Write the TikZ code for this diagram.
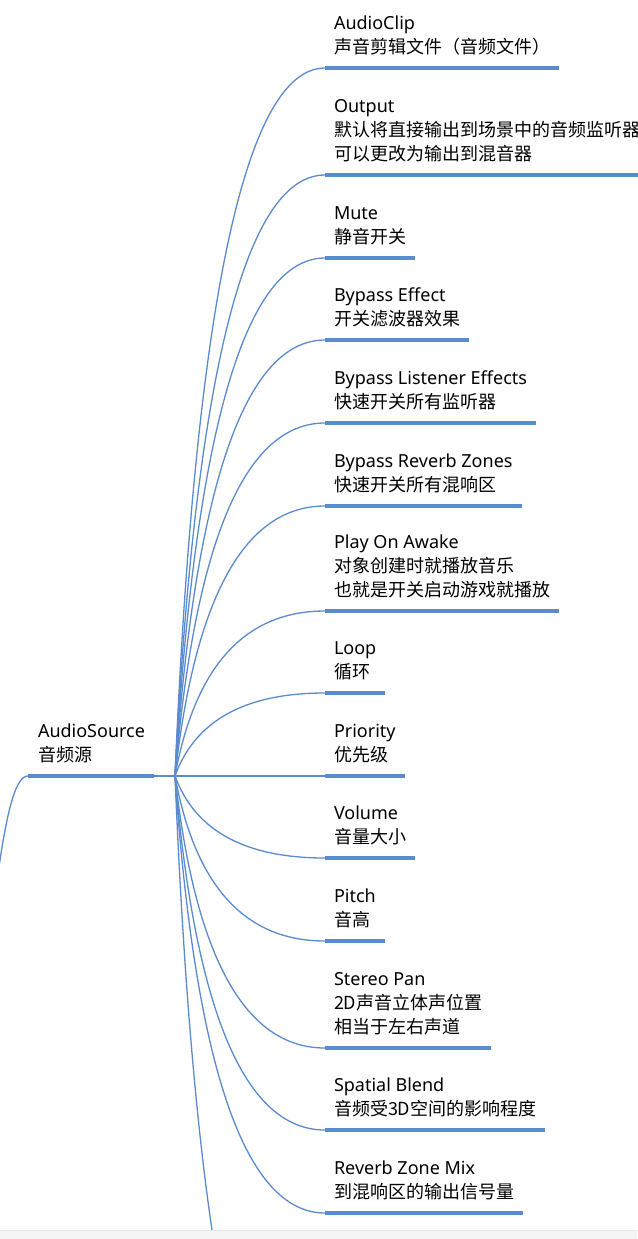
\documentclass[tikz,border=0pt]{standalone}
\usepackage{fontspec}
\setmainfont{Noto Sans}
\newfontfamily\cjk{Noto Sans CJK SC}
\usetikzlibrary{calc}
\definecolor{mapblue}{HTML}{5B8BCF}
\definecolor{barbg}{HTML}{F5F5F5}
\definecolor{barline}{HTML}{E6E6E6}
\newcommand\mystrut{\rule[-6pt]{0pt}{24pt}}
\newcommand\LatLine[1]{\mystrut #1}
\newcommand\CjkLine[1]{\mystrut{\cjk #1}}
\tikzset{
  txt/.style={anchor=north west, inner sep=0pt, outer sep=0pt, align=left,
              font=\fontsize{18}{24}\selectfont, text=black},
  uline/.style={draw=mapblue, line width=4pt},
  conn/.style={draw=mapblue, line width=1.3pt},
}
\newcommand\branch[4]{%
  \pgfmathsetmacro\ty{#2-33-24*#3}%
  \node[txt] (t#1) at (334,\ty) {#4};
  \coordinate (c#1) at (325,#2);
  \coordinate (e#1) at ($(t#1.east |- c#1)+(9,0)$);
  \draw[conn] (hub) .. controls ($(hub)!2/3!(hub|-c#1)+(20,0)$) and ($(c#1)+(-80,0)$) .. (c#1);
  \draw[uline] (c#1) -- (e#1);
}
\begin{document}
\begin{tikzpicture}[x=1pt,y=-1pt]
\useasboundingbox (0,0) rectangle (637,1239);
\fill[white] (0,0) rectangle (637,1239);

% root
\coordinate (hub) at (175,776);
\coordinate (rs) at (28,776);
\node[txt] (troot) at (38,719) {\LatLine{AudioSource}\\\CjkLine{音频源}};
\coordinate (re) at ($(troot.east |- rs)+(9,0)$);
\coordinate (pin) at (-8,920);
\draw[conn] (pin) .. controls (4,820) and (14,776) .. (rs);
\draw[uline] (rs) -- (re);
\draw[conn] (re) -- (hub);

% children
\branch{a}{68}{1}{\LatLine{AudioClip}\\\CjkLine{声音剪辑文件（音频文件）}}
\branch{b}{175}{2}{\LatLine{Output}\\\CjkLine{默认将直接输出到场景中的音频监听器}\\\CjkLine{可以更改为输出到混音器}}
\branch{c}{258}{1}{\LatLine{Mute}\\\CjkLine{静音开关}}
\branch{d}{340}{1}{\LatLine{Bypass Effect}\\\CjkLine{开关滤波器效果}}
\branch{e}{423}{1}{\LatLine{Bypass Listener Effects}\\\CjkLine{快速开关所有监听器}}
\branch{f}{506}{1}{\LatLine{Bypass Reverb Zones}\\\CjkLine{快速开关所有混响区}}
\branch{g}{611}{2}{\LatLine{Play On Awake}\\\CjkLine{对象创建时就播放音乐}\\\CjkLine{也就是开关启动游戏就播放}}
\branch{h}{693}{1}{\LatLine{Loop}\\\CjkLine{循环}}
\branch{i}{776}{1}{\LatLine{Priority}\\\CjkLine{优先级}}
\branch{j}{858}{1}{\LatLine{Volume}\\\CjkLine{音量大小}}
\branch{k}{941}{1}{\LatLine{Pitch}\\\CjkLine{音高}}
\branch{l}{1048}{2}{\LatLine{Stereo Pan}\\\CjkLine{2D声音立体声位置}\\\CjkLine{相当于左右声道}}
\branch{m}{1130}{1}{\LatLine{Spatial Blend}\\\CjkLine{音频受3D空间的影响程度}}
\branch{n}{1213}{1}{\LatLine{Reverb Zone Mix}\\\CjkLine{到混响区的输出信号量}}

% branch continuing below the visible area
\coordinate (cnext) at (325,1500);
\draw[conn] (hub) .. controls ($(hub)!2/3!(hub|-cnext)+(20,0)$) and ($(cnext)+(-80,0)$) .. (cnext);

% bottom grey strip
\fill[barbg] (0,1230) rectangle (637,1239);
\draw[barline, line width=1pt] (0,1230) -- (637,1230);
\end{tikzpicture}
\end{document}
